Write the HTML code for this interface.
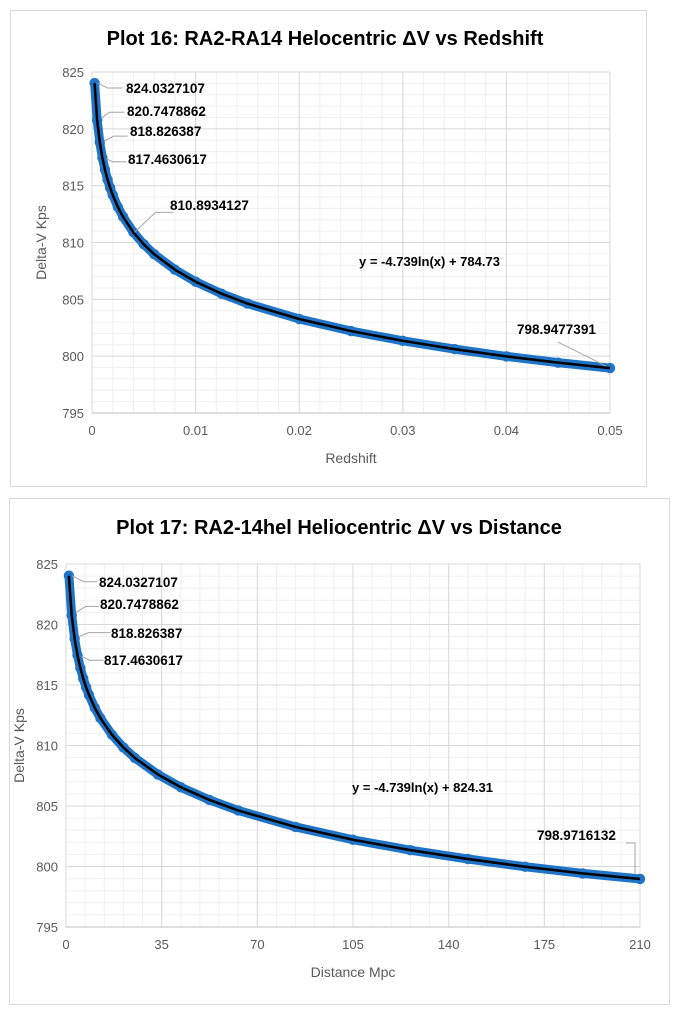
<!DOCTYPE html>
<html><head><meta charset="utf-8"><style>
html,body{margin:0;padding:0;background:#fff;}
svg{display:block;font-family:"Liberation Sans",sans-serif;}
</style></head><body>
<svg id="s" width="674" height="1014" viewBox="0 0 674 1014"></svg>
<script>
// Plot 16 data
const redshift=[0.00025,0.0005,0.00075,0.001,0.00125,0.0015,0.00175,0.002,0.0025,0.003,0.004,0.005,0.006,0.008,0.01,0.0125,0.015,0.02,0.025,0.03,0.035,0.04,0.045,0.05];
const deltaV=[824.03,820.75,818.83,817.46,816.41,815.54,814.81,814.18,813.12,812.26,810.89,809.84,808.97,807.61,806.55,805.50,804.63,803.27,802.21,801.35,800.62,799.98,799.43,798.95];
// Plot 17 data
const distance=[1.05,2.1,3.15,4.2,5.25,6.3,7.35,8.4,10.5,12.6,16.8,21,25.2,33.6,42,52.5,63,84,105,126,147,168,189,210];
const deltaV2=[824.03,820.75,818.83,817.46,816.41,815.54,814.81,814.18,813.12,812.26,810.89,809.84,808.97,807.61,806.55,805.50,804.63,803.27,802.21,801.35,800.62,799.98,799.43,798.97];
const yTicks=[795,800,805,810,815,820,825];
const xTicks1=["0","0.01","0.02","0.03","0.04","0.05"];
const xTicks2=["0","35","70","105","140","175","210"];

const NS="http://www.w3.org/2000/svg";
const svg=document.getElementById('s');
function mk(tag,attrs,parent,txt){const e=document.createElementNS(NS,tag);for(const k in attrs)e.setAttribute(k,attrs[k]);if(txt!==undefined)e.textContent=txt;(parent||svg).appendChild(e);return e;}

function chart(o){
  const g=mk('g',{});
  
  
  const box=mk('rect',{x:o.box[0]+0.5,y:o.box[1]+0.5,width:o.box[2],height:o.box[3],fill:'#fff',stroke:'#d9d9d9'},g);
  
  
  const X=v=>o.L+(v-o.xmin)/(o.xmax-o.xmin)*(o.R-o.L);
  const Y=v=>o.B-(v-795)/(825-795)*(o.B-o.T);
  for(let v=o.xmin;v<=o.xmax+1e-9;v+=o.xminor){mk('line',{x1:X(v),x2:X(v),y1:o.T,y2:o.B,stroke:'#f0f0f0'},g);}
  for(let v=795;v<=825;v+=1){mk('line',{x1:o.L,x2:o.R,y1:Y(v),y2:Y(v),stroke:'#f0f0f0'},g);}
  o.xt.forEach((t,i)=>{const v=o.xmin+i*o.xmajor;mk('line',{x1:X(v),x2:X(v),y1:o.T,y2:o.B,stroke:'#d9d9d9'},g);
    const tl=mk('text',{x:X(v),y:o.B+22,'text-anchor':'middle','font-size':13,fill:'#595959'},g,t);
    });
  yTicks.forEach(v=>{mk('line',{x1:o.L,x2:o.R,y1:Y(v),y2:Y(v),stroke:'#d9d9d9'},g);
    const tl=mk('text',{x:o.L-8,y:Y(v)+5,'text-anchor':'end','font-size':13,fill:'#595959'},g,String(v));
    });
  mk('line',{x1:o.L,x2:o.R,y1:o.B,y2:o.B,stroke:'#bfbfbf'},g);
  const ti=mk('text',{x:o.titleX,y:o.titleY,'text-anchor':'middle','font-size':20,'font-weight':'bold',fill:'#000'},g,o.title);
  
  const xt=mk('text',{x:(o.L+o.R)/2,y:o.B+50,'text-anchor':'middle','font-size':14,fill:'#595959'},g,o.xlabel);
  
  const cy=(o.T+o.B)/2;
  const yt=mk('text',{x:o.ytx,y:cy,'text-anchor':'middle','font-size':14,fill:'#595959',transform:`rotate(-90 ${o.ytx} ${cy})`},g,'Delta-V Kps');
  
  const pts=o.xs.map((x,i)=>X(x)+','+Y(o.ys[i])).join(' ');
  const band=mk('polyline',{points:pts,fill:'none',stroke:'#1f74c8','stroke-width':9,'stroke-linejoin':'round','stroke-linecap':'round'},g);
  
  o.xs.forEach((x,i)=>{const c=mk('circle',{cx:X(x),cy:Y(o.ys[i]),r:5.2,fill:'#1f74c8'},g);
    });
  const tr=mk('polyline',{points:pts,fill:'none',stroke:'#000','stroke-width':2.5,'stroke-linejoin':'round'},g);
  
  o.labels.forEach(l=>{const i=l.i;const px=X(o.xs[i]),py=Y(o.ys[i]);
    mk('polyline',{points:l.lead(px,py),fill:'none',stroke:'#a6a6a6','stroke-width':1},g);
    const t=mk('text',{x:l.x,y:l.y,'font-size':13.5,'font-weight':'bold',fill:'#000'},g,l.t);
    });
  const eq=mk('text',{x:o.eq[0],y:o.eq[1],'font-size':13,'font-weight':'bold',fill:'#000'},g,o.eqText);
  
}

chart({name:'plot-16-chart',box:[10,10,636,476],L:92,R:610,T:72,B:413,xmin:0,xmax:0.05,xmajor:0.01,xminor:0.002,
  xs:redshift,ys:deltaV,xt:xTicks1,title:'Plot 16: RA2-RA14 Helocentric ΔV vs Redshift',titleX:325,titleY:45,xlabel:'Redshift',ytx:46,
  eq:[359,266],eqText:'y = -4.739ln(x) + 784.73',
  labels:[
   {i:0,t:'824.0327107',x:126,y:93,lead:(px,py)=>`${px+3},${py} ${px+13},${py+5} ${px+28},${py+5}`},
   {i:1,t:'820.7478862',x:127,y:116,lead:(px,py)=>`${px+4},${py-2} ${px+12},${py-8} ${px+27},${py-8}`},
   {i:2,t:'818.826387',x:130,y:136,lead:(px,py)=>`${px+4},${py-1} ${px+14},${py-6} ${px+28},${py-6}`},
   {i:3,t:'817.4630617',x:128,y:164,lead:(px,py)=>`${px+4},${py+1} ${px+10},${py+4} ${px+24},${py+4}`},
   {i:10,t:'810.8934127',x:170,y:210,lead:(px,py)=>`${px+1},${py} ${px+22},${py-20} ${px+40},${py-20}`},
   {i:23,t:'798.9477391',x:517,y:334,lead:(px,py)=>`${px-4},${py-2} ${px-52},${py-26}`}]});

chart({name:'plot-17-chart',box:[9,498,660,506],L:66,R:640,T:564,B:927,xmin:0,xmax:210,xmajor:35,xminor:7,
  xs:distance,ys:deltaV2,xt:xTicks2,title:'Plot 17: RA2-14hel Heliocentric ΔV vs Distance',titleX:339,titleY:534,xlabel:'Distance Mpc',ytx:24,
  eq:[352,792],eqText:'y = -4.739ln(x) + 824.31',
  labels:[
   {i:0,t:'824.0327107',x:99,y:587,lead:(px,py)=>`${px+3},${py} ${px+15},${py+6} ${px+28},${py+6}`},
   {i:1,t:'820.7478862',x:100,y:609,lead:(px,py)=>`${px+4},${py-3} ${px+14},${py-9} ${px+27},${py-9}`},
   {i:2,t:'818.826387',x:111,y:638,lead:(px,py)=>`${px+4},${py-2} ${px+14},${py-6} ${px+36},${py-6}`},
   {i:3,t:'817.4630617',x:104,y:665,lead:(px,py)=>`${px+4},${py+1} ${px+12},${py+5} ${px+26},${py+5}`},
   {i:23,t:'798.9716132',x:537,y:840,lead:(px,py)=>`${px-5},${py-5} ${px-5},${py-36} ${px-14},${py-36}`}]});
</script>
</body></html>
